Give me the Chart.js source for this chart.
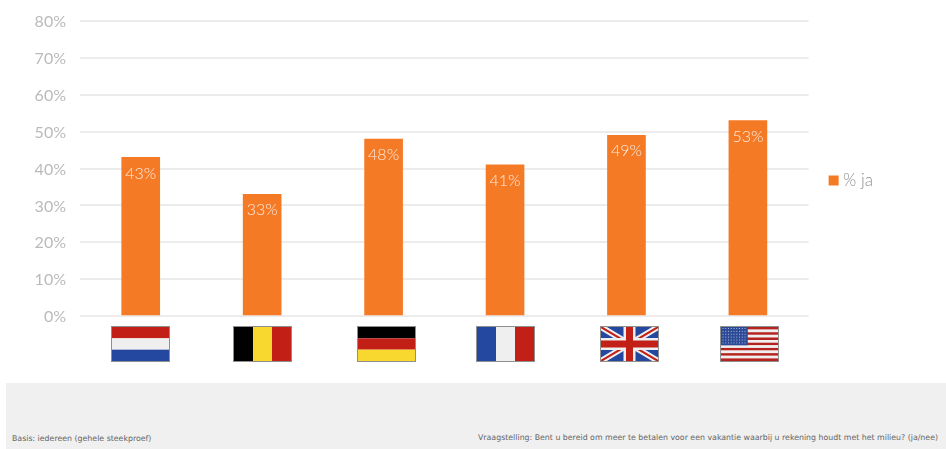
<!DOCTYPE html>
<html>
<head>
<meta charset="utf-8">
<title>% ja per land</title>
<script src="https://cdn.jsdelivr.net/npm/chart.js@4"></script>
<style>
  html, body { margin: 0; padding: 0; background: #fff; }
  #wrap { position: relative; width: 946px; height: 449px; overflow: hidden; }
  canvas { display: block; }
  #footer { position: absolute; left: 6px; right: 0; top: 383px; height: 66px; background: #f0f0f0;
    font: 7.83px "DejaVu Sans", sans-serif; color: #666; }
  #basis { position: absolute; left: 6px; top: 51px; white-space: nowrap; }
  #question { position: absolute; left: 472px; top: 50px; white-space: nowrap; }
</style>
</head>
<body>
<div id="wrap">
  <canvas id="myChart" width="946" height="380"></canvas>
  <div id="footer">
    <span id="basis">Basis: iedereen (gehele steekproef)</span>
    <span id="question">Vraagstelling: Bent u bereid om meer te betalen voor een vakantie waarbij u rekening houdt met het milieu? (ja/nee)</span>
  </div>
</div>
<script>
const countries = ['NL', 'BE', 'DE', 'FR', 'UK', 'US'];
const yesValues = [43, 33, 48, 41, 49, 53];
const seriesName = '% ja';

const ORANGE = '#f57a26';
const RED = '#c21f17';
const BLUE = '#24479f';
const WHITE = '#efefef';

// each flag painter fills a w x h box whose corner is the origin
function stripesH(ctx, w, h, colors) {
  colors.forEach((c, i) => {
    ctx.fillStyle = c;
    ctx.fillRect(0, i * h / colors.length, w, h / colors.length);
  });
}
function stripesV(ctx, w, h, colors) {
  colors.forEach((c, i) => {
    ctx.fillStyle = c;
    ctx.fillRect(i * w / colors.length, 0, w / colors.length, h);
  });
}
const flags = {
  NL: (ctx, w, h) => stripesH(ctx, w, h, [RED, WHITE, BLUE]),
  BE: (ctx, w, h) => stripesV(ctx, w, h, ['#000', '#f8d72f', RED]),
  DE: (ctx, w, h) => stripesH(ctx, w, h, ['#000', RED, '#f8d72f']),
  FR: (ctx, w, h) => stripesV(ctx, w, h, [BLUE, WHITE, RED]),
  UK: (ctx, w, h) => {
    ctx.fillStyle = BLUE;
    ctx.fillRect(0, 0, w, h);
    const cross = (color, lw) => {
      ctx.strokeStyle = color;
      ctx.lineWidth = lw;
      ctx.beginPath();
      ctx.moveTo(0, 0); ctx.lineTo(w, h);
      ctx.moveTo(w, 0); ctx.lineTo(0, h);
      ctx.stroke();
    };
    cross(WHITE, 6);
    cross(RED, 2);
    ctx.fillStyle = WHITE;
    ctx.fillRect(w / 2 - 6, 0, 12, h);
    ctx.fillRect(0, h / 2 - 6, w, 12);
    ctx.fillStyle = RED;
    ctx.fillRect(w / 2 - 3.5, 0, 7, h);
    ctx.fillRect(0, h / 2 - 3.5, w, 7);
  },
  US: (ctx, w, h) => {
    for (let i = 0; i < 13; i++) {
      ctx.fillStyle = i % 2 ? WHITE : '#b5231f';
      ctx.fillRect(0, i * h / 13, w, h / 13);
    }
    const cw = w * 0.47, ch = h * 7 / 13;
    ctx.fillStyle = '#2c4a96';
    ctx.fillRect(0, 0, cw, ch);
    ctx.fillStyle = '#a9b6d8';
    for (let r = 0; r < 6; r++) {
      for (let c = 0; c < 9; c++) {
        ctx.fillRect(1.5 + c * (cw - 2) / 9, 1 + r * (ch - 1) / 6, 1, 1);
      }
    }
  }
};

// the x axis carries flags in place of text labels; a few sit slightly off the bar centre
const flagNudge = { NL: 0, BE: 0, DE: 3, FR: 0, UK: 3, US: 2 };
const flagAxis = {
  id: 'flagAxis',
  afterDraw(chart) {
    const { ctx, scales: { x } } = chart;
    const w = 57, h = 34, top = 327;
    countries.forEach((code, i) => {
      const cx = x.getPixelForValue(i) + flagNudge[code];
      ctx.save();
      ctx.translate(Math.round(cx - w / 2), top);
      ctx.save();
      ctx.beginPath();
      ctx.rect(0, 0, w, h);
      ctx.clip();
      flags[code](ctx, w, h);
      ctx.restore();
      ctx.strokeStyle = '#8f8f8f';
      ctx.lineWidth = 1;
      ctx.strokeRect(-0.5, -0.5, w + 1, h + 1);
      ctx.restore();
    });
  }
};

// value text sits inside the top of each bar
const barLabels = {
  id: 'barLabels',
  afterDatasetsDraw(chart) {
    const { ctx } = chart;
    ctx.save();
    ctx.font = '300 16px Lato, sans-serif';
    ctx.fillStyle = '#fbeadd';
    ctx.textAlign = 'center';
    ctx.textBaseline = 'middle';
    chart.getDatasetMeta(0).data.forEach((bar, i) => {
      ctx.fillText(yesValues[i] + '%', bar.x, bar.y + 16);
    });
    ctx.restore();
  }
};

// legend sits right of the plot, a little below its centre
const legendShift = {
  id: 'legendShift',
  afterLayout(chart) {
    chart.legend.top -= 20;
    chart.legend.bottom -= 20;
    chart.legend.left += 14;
    chart.legend.right += 14;
  }
};

new Chart(document.getElementById('myChart'), {
  type: 'bar',
  data: {
    labels: countries,
    datasets: [{
      label: seriesName,
      data: yesValues,
      backgroundColor: ORANGE,
      barThickness: 38
    }]
  },
  plugins: [flagAxis, barLabels, legendShift],
  options: {
    responsive: false,
    animation: false,
    layout: { padding: { top: 21, right: 77, left: 0, bottom: 0 } },
    plugins: {
      tooltip: { enabled: false },
      legend: {
        position: 'right',
        labels: {
          usePointStyle: true,
          pointStyle: 'rect',
          boxWidth: 2,
          boxHeight: 10,
          color: '#8f8f8f',
          font: { family: 'Lato, sans-serif', size: 17, weight: '300' }
        }
      }
    },
    scales: {
      x: {
        grid: { display: false },
        border: { display: false },
        ticks: { display: false },
        afterFit(scale) { scale.height = 64; }
      },
      y: {
        min: 0,
        max: 80,
        border: { display: false },
        grid: {
          color: '#ececec',
          lineWidth: 2,
          tickLength: 12,
          tickColor: 'transparent'
        },
        ticks: {
          stepSize: 10,
          padding: 2,
          labelOffset: 1,
          color: '#bababa',
          font: { family: 'Lato, sans-serif', size: 16, weight: '400' },
          callback: v => v + '%'
        },
        afterFit(scale) { scale.width = 80; }
      }
    }
  }
});
</script>
</body>
</html>
